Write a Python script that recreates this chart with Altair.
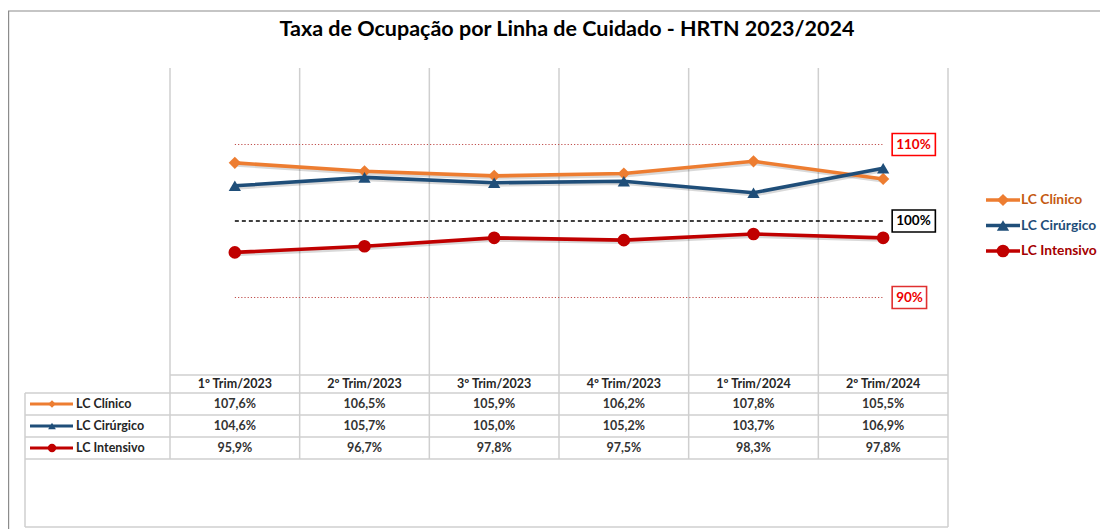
import altair as alt
import pandas as pd

# ---------------- data ----------------
categories = ["1º Trim/2023", "2º Trim/2023", "3º Trim/2023", "4º Trim/2023", "1º Trim/2024", "2º Trim/2024"]
series_names = ["LC Clínico", "LC Cirúrgico", "LC Intensivo"]
lc_clinico = [107.6, 106.5, 105.9, 106.2, 107.8, 105.5]
lc_cirurgico = [104.6, 105.7, 105.0, 105.2, 103.7, 106.9]
lc_intensivo = [95.9, 96.7, 97.8, 97.5, 98.3, 97.8]
ref_values = [110, 100, 90]
ref_labels = ["110%", "100%", "90%"]
title_text = "Taxa de Ocupação por Linha de Cuidado - HRTN 2023/2024"

# ---------------- styles ----------------
line_colors = ["#ED7D31", "#1F4E79", "#C00000"]
text_colors = ["#C55A11", "#1F4E79", "#A50000"]
shapes = ["diamond", "triangle-up", "circle"]
marker_sizes = [150, 150, 160]
key_sizes = [55, 60, 70]
ref_line_colors = ["#C0504D", "#000000", "#C0504D"]
ref_text_colors = ["#EE0000", "#000000", "#EE0000"]
ref_box_colors = ["#FF0000", "#000000", "#E03030"]
FONT = "Lato"
GRID = "#CFCFCF"

W, H = 1092, 521

# ---------------- tables ----------------
rows = []
for s_idx, (name, vals) in enumerate(zip(series_names, [lc_clinico, lc_cirurgico, lc_intensivo])):
    for i, (c, v) in enumerate(zip(categories, vals)):
        rows.append({
            "series": name, "i": i, "cat": c, "value": v,
            "label": f"{v:.1f}".replace(".", ",") + "%",
            "trow": s_idx + 1.5,
        })
df = pd.DataFrame(rows)

meta = pd.DataFrame({
    "series": series_names,
    "lc": line_colors,
    "tc": text_colors,
    "shape": shapes,
    "msize": marker_sizes,
    "ksize": key_sizes,
    "trow": [k + 1.5 for k in range(len(series_names))],
})

cats_df = pd.DataFrame({"cat": categories, "i": list(range(len(categories))), "trow": 0.5})
n = len(categories)
bounds_df = pd.DataFrame({"b": [k - 0.5 for k in range(n + 1)]})
tlines_df = pd.DataFrame({"r": [1, 2, 3, 4]})

ref_df = pd.DataFrame({
    "v": ref_values, "label": ref_labels,
    "x0": 0, "x1": n - 1,
    "lc": ref_line_colors, "tc": ref_text_colors, "bc": ref_box_colors,
})

one = pd.DataFrame({"a": [0]})

# ---------------- scales (pixel ranges in chart coords) ----------------
XS = alt.Scale(domain=[-0.5, n - 0.5], range=[162, 940])
YS = alt.Scale(domain=[80, 120], range=[366, 60])
TY = alt.Scale(domain=[0, 1, 4], range=[367, 385, 451])
LY = alt.Scale(domain=series_names, range=[192, 243], type="point", padding=0)

x_i = alt.X("i:Q", scale=XS, axis=None)
y_v = alt.Y("value:Q", scale=YS, axis=None)
col = alt.Color("series:N", scale=alt.Scale(domain=series_names, range=line_colors), legend=None)

# frame
frame_top = alt.Chart(one).mark_rule(color="#8C8C8C", strokeWidth=1.2).encode(
    x=alt.value(0), x2=alt.value(W), y=alt.value(3))
frame_left = alt.Chart(one).mark_rule(color="#8C8C8C", strokeWidth=1.2).encode(
    x=alt.value(0.6), y=alt.value(3), y2=alt.value(H))

# vertical grid lines
grid_inner = alt.Chart(bounds_df).transform_filter(f"datum.b < {n - 1}").mark_rule(
    color=GRID, strokeWidth=1.5).encode(
    x=alt.X("b:Q", scale=XS, axis=None), y=alt.value(60), y2=alt.value(451))
grid_last = alt.Chart(bounds_df).transform_filter(f"datum.b > {n - 1}").mark_rule(
    color=GRID, strokeWidth=1.5).encode(
    x=alt.X("b:Q", scale=XS, axis=None), y=alt.value(60), y2=alt.value(H - 2))

# table lines
head_top = alt.Chart(pd.DataFrame({"x0": [-0.5], "x1": [n - 0.5], "r": [0]})).mark_rule(
    color=GRID, strokeWidth=1.5).encode(
    x=alt.X("x0:Q", scale=XS, axis=None), x2="x1:Q", y=alt.Y("r:Q", scale=TY, axis=None))
row_lines = alt.Chart(tlines_df).mark_rule(color=GRID, strokeWidth=1.5).encode(
    x=alt.value(17), x2=alt.value(940), y=alt.Y("r:Q", scale=TY, axis=None))
table_left = alt.Chart(one).mark_rule(color=GRID, strokeWidth=1.5).encode(
    x=alt.value(17), y=alt.value(385), y2=alt.value(H - 2))
table_bottom = alt.Chart(one).mark_rule(color=GRID, strokeWidth=1.5).encode(
    x=alt.value(17), x2=alt.value(940), y=alt.value(H - 2))

# reference lines
ref_enc = dict(x=alt.X("x0:Q", scale=XS, axis=None), x2="x1:Q",
               y=alt.Y("v:Q", scale=YS, axis=None), color=alt.Color("lc:N", scale=None))
ref_dotted = alt.Chart(ref_df).transform_filter("datum.v != 100").mark_rule(
    strokeWidth=1.2, strokeDash=[1.2, 2]).encode(**ref_enc)
ref_dashed = alt.Chart(ref_df).transform_filter("datum.v == 100").mark_rule(
    strokeWidth=1.5, strokeDash=[4, 3]).encode(**ref_enc)

ref_boxes = []
for k, lab in enumerate(ref_labels):
    w = 8 + 8.8 * len(lab)
    ref_boxes.append(
        alt.Chart(ref_df).transform_filter(f"datum.label == '{lab}'").mark_rect(
            fill="white", strokeWidth=1.6, xOffset=9, x2Offset=9 + w, yOffset=-11, y2Offset=11).encode(
            x=alt.X("x1:Q", scale=XS, axis=None), x2="x1:Q",
            y=alt.Y("v:Q", scale=YS, axis=None), y2="v:Q",
            stroke=alt.Color("bc:N", scale=None))
    )
ref_text = alt.Chart(ref_df).mark_text(
    align="left", baseline="middle", dx=13, font=FONT, fontSize=13.5, fontWeight="bold").encode(
    x=alt.X("x1:Q", scale=XS, axis=None), y=alt.Y("v:Q", scale=YS, axis=None),
    text="label:N", color=alt.Color("tc:N", scale=None))

# series
shadow = alt.Chart(df).mark_line(strokeWidth=3.8, color="#000000", opacity=0.15,
                                 xOffset=1, yOffset=2).encode(
    x=x_i, y=y_v, detail="series:N")
lines = alt.Chart(df).mark_line(strokeWidth=3.6).encode(x=x_i, y=y_v, color=col, detail="series:N")
pts = alt.Chart(df).transform_lookup(
    lookup="series", from_=alt.LookupData(meta, "series", ["shape", "msize"])).mark_point(
    filled=True, opacity=1).encode(
    x=x_i, y=y_v, color=col,
    shape=alt.Shape("shape:N", scale=None),
    size=alt.Size("msize:Q", scale=None))

# table texts
head_text = alt.Chart(cats_df).mark_text(
    font=FONT, fontSize=12.5, fontWeight="bold", color="#262626", baseline="middle").encode(
    x=x_i, y=alt.Y("trow:Q", scale=TY, axis=None), text="cat:N")
val_text = alt.Chart(df).mark_text(
    font=FONT, fontSize=12.5, fontWeight="bold", color="#333333", baseline="middle").encode(
    x=x_i, y=alt.Y("trow:Q", scale=TY, axis=None), text="label:N")

ty_enc = alt.Y("trow:Q", scale=TY, axis=None)
tkey_line = alt.Chart(meta).mark_rule(strokeWidth=3.2).encode(
    x=alt.value(22), x2=alt.value(65), y=ty_enc, color=alt.Color("lc:N", scale=None))
tkey_pt = alt.Chart(meta).mark_point(filled=True, opacity=1).encode(
    x=alt.value(44), y=ty_enc, color=alt.Color("lc:N", scale=None),
    shape=alt.Shape("shape:N", scale=None), size=alt.Size("ksize:Q", scale=None))
tkey_text = alt.Chart(meta).mark_text(
    align="left", baseline="middle", font=FONT, fontSize=12.5, fontWeight="bold", color="#262626").encode(
    x=alt.value(68), y=ty_enc, text="series:N")

# right legend
ly_enc = alt.Y("series:N", scale=LY, axis=None)
leg_line = alt.Chart(meta).mark_rule(strokeWidth=3.6).encode(
    x=alt.value(978), x2=alt.value(1012), y=ly_enc, color=alt.Color("lc:N", scale=None))
leg_pt = alt.Chart(meta).mark_point(filled=True, opacity=1).encode(
    x=alt.value(995), y=ly_enc, color=alt.Color("lc:N", scale=None),
    shape=alt.Shape("shape:N", scale=None), size=alt.Size("msize:Q", scale=None))
leg_text = alt.Chart(meta).mark_text(
    align="left", baseline="middle", font=FONT, fontSize=13.8, fontWeight="bold").encode(
    x=alt.value(1013), y=ly_enc, text="series:N", color=alt.Color("tc:N", scale=None))

# title
title = alt.Chart(pd.DataFrame({"t": [title_text]})).mark_text(
    font=FONT, fontSize=21.5, fontWeight="bold", color="#000000", baseline="middle").encode(
    x=alt.value(559), y=alt.value(22), text="t:N")

chart = alt.layer(
    frame_top, frame_left, grid_inner, grid_last, head_top, row_lines, table_left, table_bottom,
    ref_dotted, ref_dashed, *ref_boxes, ref_text,
    shadow, lines, pts,
    head_text, val_text, tkey_line, tkey_pt, tkey_text,
    leg_line, leg_pt, leg_text, title,
).resolve_scale(
    x="independent", y="independent", color="independent", shape="independent", size="independent", stroke="independent"
).properties(
    width=W, height=H, padding=0, autosize=alt.AutoSizeParams(type="none"), background="white"
).configure_view(strokeWidth=0)

chart.save("out.html", embed_options={"renderer": "svg", "actions": False})
